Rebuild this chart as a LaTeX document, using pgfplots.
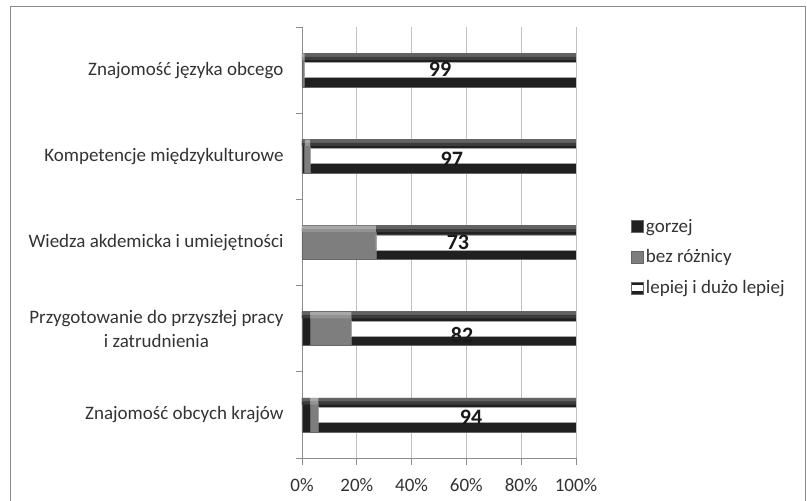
\documentclass[border=0pt]{standalone}
\usepackage{pgfplots}
\pgfplotsset{compat=1.18}
\usepackage{fontspec}
\setmainfont{Carlito}

\definecolor{txt}{HTML}{333333}
\definecolor{gridc}{HTML}{C0C0C0}
\definecolor{axisc}{HTML}{8C8C8C}
\definecolor{dk}{HTML}{202020}
\definecolor{dkhi}{HTML}{626262}
\definecolor{dkmid}{HTML}{3C3C3C}
\definecolor{gr}{HTML}{7E7E7E}
\definecolor{grhi}{HTML}{A8A8A8}
\definecolor{grmid}{HTML}{939393}

% data
\pgfplotstableread{
cat gorzej bez lepiej
0   3      3   94
1   3      15  82
2   0      27  73
3   1      2   97
4   0      1   99
}\datatable

\pgfplotsset{
  frame axis/.style={scale only axis, width=274pt, height=431pt,
    xmin=0, xmax=100, ymin=-0.5, ymax=4.5},
  overlay axis/.style={frame axis, hide axis, xbar stacked},
  ghost/.style={draw=none, fill=none},
}

\begin{document}
\begin{tikzpicture}
\path[use as bounding box] (-302pt,-43pt) rectangle (505pt,458pt);
\draw[axisc, line width=1pt] (-291pt,-60pt) -- (-291pt,451pt) -- (503pt,451pt) -- (503pt,-60pt);

% main stacked bars
\begin{axis}[
  frame axis,
  xbar stacked, bar width=34pt,
  xtick={0,20,...,100},
  xticklabel={\pgfmathprintnumber{\tick}\%},
  /pgf/number format/assume math mode=true,
  ytick={0,...,4},
  yticklabels={Znajomość obcych krajów, {Przygotowanie do przyszłej pracy\\i zatrudnienia}, Wiedza akdemicka i umiejętności, Kompetencje międzykulturowe, Znajomość języka obcego},
  minor ytick={-0.5,0.5,...,4.5},
  major y tick style={draw=none},
  minor y tick style={axisc, line width=0.8pt},
  xtick style={axisc, line width=0.8pt},
  tick align=outside, major tick length=7pt, minor tick length=6pt,
  axis x line*=bottom, axis y line*=left,
  axis line style={axisc, line width=0.8pt, -},
  xmajorgrids, major grid style={gridc, line width=0.8pt},
  ticklabel style={font=\fontsize{19}{24}\selectfont, text=txt},
  yticklabel style={align=center, xshift=-8pt},
  xticklabel style={yshift=-10pt},
  legend style={draw=none, fill=none, at={(rel axis cs:1.20,0.466)}, anchor=west,
    font=\fontsize{19}{22}\selectfont, text=txt, row sep=12pt, inner sep=0pt,
    nodes={inner xsep=2.5pt}},
  legend cell align=left,
  legend image code/.code={\draw[#1] (0pt,-6pt) rectangle (12pt,6pt);},
]
\addplot[draw=black!60, line width=0.5pt, fill=dk] table[x=gorzej, y=cat] {\datatable};
\addplot[draw=black!60, line width=0.5pt, fill=gr] table[x=bez, y=cat] {\datatable};
\addplot[draw=black!60, line width=0.5pt, fill=dk,
  legend image code/.code={\draw[draw=black!60, fill=dk] (0pt,-6pt) rectangle (12pt,6pt);
    \fill[white] (0.8pt,-2pt) rectangle (11.2pt,2.2pt);}]
  table[x=lepiej, y=cat] {\datatable};
\legend{gorzej, bez różnicy, lepiej i dużo lepiej}
\end{axis}

% lighter top edge of each bar, in two steps
\begin{axis}[overlay axis, bar width=3.5pt, bar shift=15pt]
\addplot[draw=none, fill=dkhi] table[x=gorzej, y=cat] {\datatable};
\addplot[draw=none, fill=grhi] table[x=bez, y=cat] {\datatable};
\addplot[draw=none, fill=dkhi] table[x=lepiej, y=cat] {\datatable};
\end{axis}
\begin{axis}[overlay axis, bar width=3pt, bar shift=11.8pt]
\addplot[draw=none, fill=dkmid] table[x=gorzej, y=cat] {\datatable};
\addplot[draw=none, fill=grmid] table[x=bez, y=cat] {\datatable};
\addplot[draw=none, fill=dkmid] table[x=lepiej, y=cat] {\datatable};
\end{axis}

% white stripe through the "lepiej i dużo lepiej" segments
\begin{axis}[overlay axis, bar width=15pt, bar shift=0pt]
\addplot[ghost] table[x=gorzej, y=cat] {\datatable};
\addplot[ghost] table[x=bez, y=cat] {\datatable};
\addplot[draw=black!35, line width=0.6pt, fill=white] table[x=lepiej, y=cat] {\datatable};
\end{axis}

% value labels
\begin{axis}[frame axis, hide axis]
\addplot[draw=none, mark=none, nodes near coords, point meta=explicit symbolic,
  every node near coord/.append style={anchor=center, font=\bfseries\fontsize{22}{24}\selectfont, text=black!90}]
  coordinates {(61.7,-0.03)[94] (58.4,0.93)[82] (56.9,2.0)[73] (54.7,2.97)[97] (50.4,4.01)[99]};
\end{axis}
\end{tikzpicture}
\end{document}
